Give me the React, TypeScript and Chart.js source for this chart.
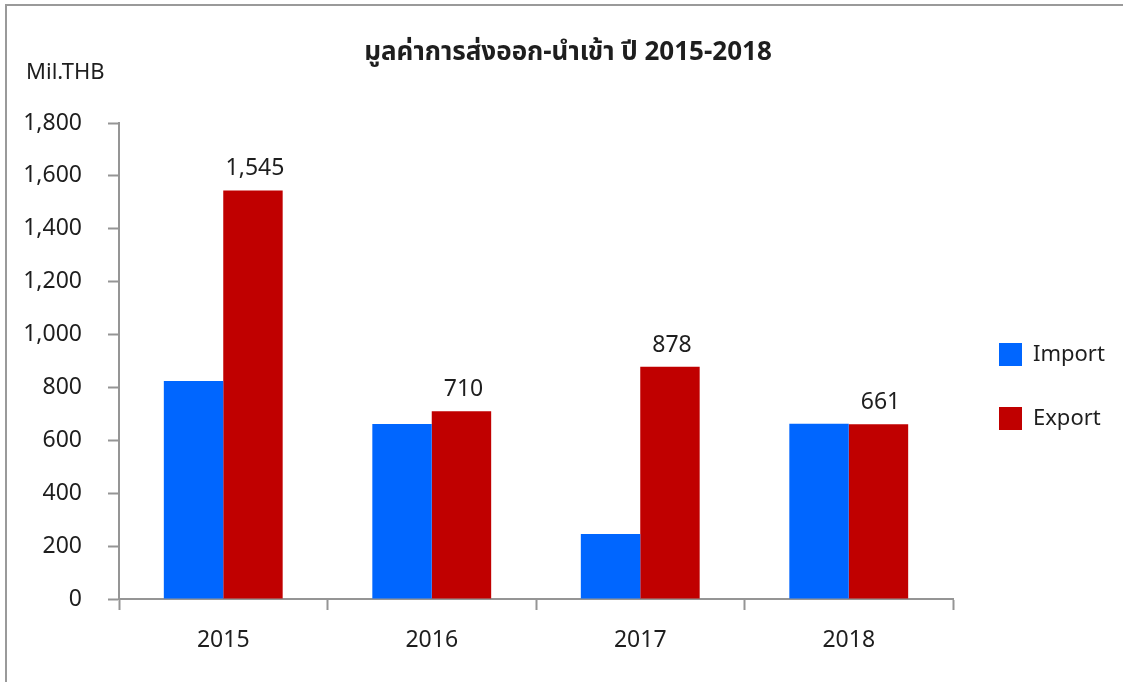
import React, { useEffect, useRef } from "react";
import { Chart, registerables } from "chart.js";

Chart.register(...registerables);

const categories = ["2015", "2016", "2017", "2018"];
const importValues = [824, 662, 246, 663];
const exportValues = [1545, 710, 878, 661];
const seriesNames = ["Import", "Export"];
const yMin = 0;
const yMax = 1800;
const yStep = 200;
const chartTitle = "มูลค่าการส่งออก-นำเข้า ปี 2015-2018";
const unitLabel = "Mil.THB";

const FONT = '"Noto Sans", "Noto Sans Thai", "DejaVu Sans", sans-serif';
const AXIS = "#959595";
const TEXT = "#1e1e1e";

export default function App() {
  const ref = useRef<HTMLCanvasElement | null>(null);

  useEffect(() => {
    if (!ref.current) return;

    const extras = {
      id: "extras",
      afterLayout(chart: any) {
        const lg = chart.legend;
        if (lg) {
          const pad = lg.options.labels.padding;
          const dx = 999 - (lg.left + pad);
          const dy = 343 - (lg.top + pad);
          lg.left += dx;
          lg.right = chart.width;
          lg.top += dy;
          lg.bottom += dy;
          lg.width = lg.right - lg.left;
        }
        const tb = chart.titleBlock;
        if (tb) {
          const dx = 568 - (tb.left + tb.right) / 2;
          tb.left += dx;
          tb.right += dx;
        }
      },
      afterDatasetsDraw(chart: any) {
        const ctx = chart.ctx;
        ctx.save();
        ctx.font = `23px ${FONT}`;
        ctx.fillStyle = TEXT;
        ctx.textAlign = "center";
        ctx.textBaseline = "alphabetic";
        const meta = chart.getDatasetMeta(1);
        meta.data.forEach((bar: any, i: number) => {
          const v = chart.data.datasets[1].data[i] as number;
          ctx.fillText(v.toLocaleString("en-US"), bar.x + 2, bar.y - 15);
        });
        ctx.font = `22px ${FONT}`;
        ctx.textAlign = "left";
        ctx.fillText(unitLabel, 26, 79);
        ctx.restore();
      },
    };

    const chart = new Chart(ref.current, {
      type: "bar",
      data: {
        labels: categories,
        datasets: [
          {
            label: seriesNames[0],
            data: importValues,
            backgroundColor: "#0066FF",
            borderWidth: 0,
            categoryPercentage: 0.57,
            barPercentage: 1.0,
          },
          {
            label: seriesNames[1],
            data: exportValues,
            backgroundColor: "#C00000",
            borderWidth: 0,
            categoryPercentage: 0.57,
            barPercentage: 1.0,
          },
        ],
      },
      options: {
        responsive: false,
        animation: false,
        layout: { padding: { left: 0, right: 30, top: 0, bottom: 0 } },
        plugins: {
          tooltip: { enabled: false },
          title: {
            display: true,
            text: chartTitle,
            color: TEXT,
            font: { family: FONT, size: 26, weight: "bold", lineHeight: 1.2 },
            padding: { top: 37, bottom: 54.8 },
          },
          legend: {
            display: true,
            position: "right",
            align: "start",
            maxWidth: 140,
            labels: {
              boxWidth: 23,
              boxHeight: 23,
              padding: 41,
              color: TEXT,
              font: { family: FONT, size: 22 },
            },
          },
        },
        scales: {
          x: {
            offset: true,
            afterFit(scale: any) {
              scale.height = 83;
            },
            grid: {
              offset: true,
              drawOnChartArea: false,
              drawTicks: true,
              tickLength: 11,
              tickWidth: 2,
              tickColor: AXIS,
            },
            border: { display: true, color: AXIS, width: 2 },
            ticks: {
              color: TEXT,
              padding: 17,
              font: { family: FONT, size: 23 },
            },
          },
          y: {
            min: yMin,
            max: yMax,
            afterFit(scale: any) {
              scale.width = 119;
            },
            grid: {
              drawOnChartArea: false,
              drawTicks: true,
              tickLength: 11,
              tickWidth: 2,
              tickColor: AXIS,
            },
            border: { display: true, color: AXIS, width: 2 },
            ticks: {
              stepSize: yStep,
              color: TEXT,
              padding: 26,
              font: { family: FONT, size: 23 },
            },
          },
        },
      },
      plugins: [extras],
    } as any);

    return () => chart.destroy();
  }, []);

  return (
    <div style={{ position: "fixed", left: 0, top: 0, width: 1123, height: 682, background: "#fff", overflow: "hidden" }}>
      <div
        style={{
          position: "absolute",
          left: 5,
          top: 4,
          width: 1200,
          height: 800,
          borderLeft: "2px solid #9a9a9a",
          borderTop: "2px solid #9a9a9a",
        }}
      />
      <canvas ref={ref} width={1123} height={682} style={{ position: "absolute", left: 0, top: 0 }} />
    </div>
  );
}
